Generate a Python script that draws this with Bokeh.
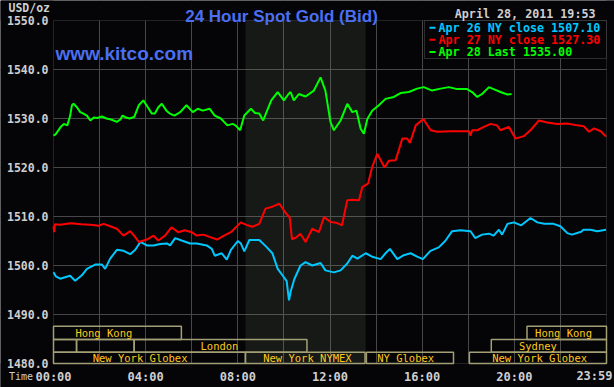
from bokeh.plotting import figure
from bokeh.models import (FixedTicker, Label, BoxAnnotation, Range1d,
                          PrintfTickFormatter, CustomJSTickFormatter)
from bokeh.embed import file_html
from bokeh.resources import INLINE

# ---------------- data (hours of the day, USD/oz) ----------------
apr26_t = [0.0, 0.1, 0.29, 0.5, 0.72, 0.94, 1.23, 1.45, 1.81, 2.1, 2.24, 2.46, 2.75, 3.04, 3.33, 3.55,
           3.77, 4.05, 4.34, 4.63, 4.92, 5.06, 5.28, 5.56, 5.93, 6.22, 6.65, 6.87, 7.0, 7.3, 7.52, 7.7,
           8.0, 8.13, 8.28, 8.5, 8.93, 9.22, 9.5, 9.73, 10.0, 10.12, 10.22, 10.3, 10.45, 10.72, 10.94,
           11.23, 11.59, 11.8, 12.17, 12.46, 12.75, 12.97, 13.19, 13.55, 13.83, 14.2, 14.41, 14.6,
           14.92, 15.2, 15.5, 15.78, 16.03, 16.36, 16.72, 17.0, 17.3, 17.67, 18.1, 18.3, 18.6, 18.9,
           19.1, 19.33, 19.47, 19.7, 19.98, 20.3, 20.7, 21.0, 21.3, 21.7, 22.0, 22.3, 22.5, 22.9, 23.0,
           23.3, 23.6, 23.98]
apr26_p = [1498.6, 1497.8, 1497.3, 1497.6, 1497.9, 1496.9, 1498.0, 1499.3, 1500.2, 1500.2, 1499.3,
           1501.4, 1503.2, 1503.0, 1502.3, 1503.2, 1504.8, 1504.1, 1504.1, 1504.4, 1504.5, 1504.1,
           1505.6, 1505.1, 1504.5, 1504.5, 1504.1, 1503.4, 1502.0, 1502.5, 1501.2, 1503.2, 1505.0,
           1504.5, 1502.9, 1505.2, 1505.2, 1503.9, 1502.5, 1499.3, 1497.6, 1496.8, 1492.9, 1494.8,
           1497.2, 1500.0, 1500.7, 1500.0, 1500.5, 1499.0, 1498.6, 1499.0, 1500.4, 1502.0, 1501.4,
           1502.5, 1501.8, 1501.3, 1502.5, 1503.4, 1501.3, 1502.1, 1502.5, 1501.8, 1501.3, 1503.0,
           1503.7, 1505.0, 1507.0, 1507.2, 1507.0, 1505.6, 1506.3, 1506.5, 1506.1, 1507.3, 1506.3,
           1508.5, 1508.8, 1508.2, 1509.7, 1508.8, 1508.5, 1508.5, 1508.0, 1506.6, 1506.3, 1506.9,
           1507.3, 1507.3, 1507.0, 1507.3]

apr27_t = [0.0, 0.03, 0.06, 0.3, 0.73, 1.2, 1.6, 1.95, 2.17, 2.46, 2.75, 3.04, 3.33, 3.55, 3.7, 4.05,
           4.34, 4.55, 4.84, 5.12, 5.41, 5.7, 6.0, 6.22, 6.5, 6.8, 7.1, 7.4, 7.7, 8.13, 8.42, 8.64,
           8.93, 9.2, 9.5, 9.8, 10.1, 10.25, 10.35, 10.5, 10.72, 10.94, 11.23, 11.52, 11.74, 12.02,
           12.3, 12.52, 12.75, 12.97, 13.26, 13.4, 13.65, 13.83, 14.05, 14.37, 14.56, 14.85, 15.14,
           15.35, 15.47, 15.72, 16.05, 16.37, 16.66, 17.24, 18.04, 18.1, 18.17, 18.39, 18.68, 18.97,
           19.25, 19.4, 19.76, 20.05, 20.41, 20.7, 21.07, 21.43, 21.86, 22.3, 22.73, 23.02, 23.24,
           23.46, 23.75, 23.98]
apr27_p = [1508.0, 1506.8, 1508.4, 1508.3, 1508.6, 1508.4, 1508.3, 1508.1, 1508.5, 1508.0, 1507.5,
           1506.1, 1507.0, 1505.8, 1504.8, 1505.3, 1506.1, 1505.1, 1506.1, 1507.8, 1506.8, 1507.2,
           1506.8, 1506.1, 1506.3, 1505.8, 1505.3, 1506.1, 1506.8, 1508.8, 1508.2, 1507.9, 1508.5,
           1511.6, 1512.0, 1512.6, 1510.6, 1509.8, 1505.4, 1505.6, 1506.5, 1504.8, 1507.5, 1506.8,
           1509.9, 1508.9, 1508.7, 1508.2, 1513.3, 1513.4, 1513.3, 1516.0, 1516.7, 1520.1, 1522.8,
           1520.0, 1521.4, 1521.5, 1525.9, 1525.9, 1525.0, 1528.6, 1529.9, 1527.6, 1527.3, 1527.4,
           1527.4, 1526.5, 1527.6, 1527.6, 1528.3, 1528.9, 1528.6, 1527.6, 1528.3, 1525.9, 1526.4,
           1527.6, 1529.6, 1529.2, 1528.9, 1529.0, 1528.6, 1528.4, 1527.3, 1528.0, 1527.4, 1526.3]

apr28_t = [0.0, 0.1, 0.3, 0.45, 0.6, 0.72, 0.8, 0.87, 1.0, 1.16, 1.3, 1.45, 1.6, 1.75, 1.9, 2.1, 2.3,
           2.5, 2.75, 2.9, 3.0, 3.15, 3.3, 3.5, 3.7, 3.9, 4.05, 4.27, 4.4, 4.55, 4.7, 4.9, 5.05, 5.25,
           5.5, 5.77, 6.05, 6.26, 6.48, 6.77, 7.0, 7.26, 7.55, 7.77, 7.9, 8.1, 8.28, 8.57, 8.75, 8.93,
           9.1, 9.45, 9.73, 10.0, 10.2, 10.29, 10.43, 10.65, 10.94, 11.3, 11.59, 11.8, 12.02, 12.17,
           12.46, 12.75, 12.97, 13.15, 13.33, 13.47, 13.62, 13.83, 14.12, 14.41, 14.77, 15.06, 15.42,
           15.78, 16.07, 16.43, 16.8, 17.16, 17.52, 17.95, 18.17, 18.39, 18.6, 18.9, 19.1, 19.4,
           19.7, 19.88]
apr28_p = [1526.5, 1526.8, 1528.2, 1528.9, 1528.6, 1530.5, 1532.7, 1533.0, 1532.4, 1531.3, 1531.0,
           1530.6, 1529.6, 1530.2, 1530.1, 1530.4, 1530.0, 1529.8, 1529.3, 1529.8, 1530.6, 1530.2,
           1530.0, 1530.3, 1532.7, 1533.7, 1532.6, 1531.0, 1531.0, 1532.3, 1533.0, 1531.6, 1531.0,
           1530.6, 1531.3, 1532.7, 1531.3, 1532.0, 1531.6, 1532.0, 1530.6, 1530.0, 1528.6, 1528.9,
           1528.6, 1527.6, 1530.6, 1532.0, 1531.1, 1531.0, 1529.6, 1533.7, 1535.4, 1533.7, 1535.0,
           1535.4, 1533.7, 1535.0, 1534.5, 1535.7, 1538.4, 1535.7, 1529.3, 1527.6, 1529.6, 1533.0,
           1531.3, 1531.6, 1527.9, 1526.9, 1529.9, 1531.6, 1532.7, 1534.0, 1534.4, 1535.2, 1535.4,
           1536.1, 1536.4, 1535.7, 1536.1, 1536.4, 1536.0, 1536.0, 1535.4, 1534.4, 1535.0, 1536.4,
           1536.0, 1535.4, 1534.9, 1535.0]

legend_texts = ["Apr 26 NY close 1507.10", "Apr 27 NY close 1527.30", "Apr 28 Last 1535.00"]

y_ticks = [1480, 1490, 1500, 1510, 1520, 1530, 1540, 1550]
x_ticks = [0, 4, 8, 12, 16, 20]
x_grid = [2, 4, 6, 8, 10, 12, 14, 16, 18, 20, 22]

# trading sessions (row 0 = top row)
session_names = ["Hong Kong", "", "", "London", "New York Globex", "New York NYMEX", "NY Globex",
                 "New York Globex", "Sydney", "Hong Kong"]
session_start = [0.0, 0.0, 1.0, 3.5, 0.0, 8.33, 13.58, 18.05, 19.0, 20.55]
session_end = [5.55, 1.0, 3.5, 11.0, 8.33, 13.52, 17.36, 24.0, 24.0, 24.0]
session_row = [0, 1, 1, 1, 2, 2, 2, 2, 1, 0]
session_label_at = [0.95, 0, 0, 6.38, 1.7, 9.1, 14.05, 19.04, 20.2, 20.9]

nymex_floor = (8.33, 13.55)

# ---------------- geometry helpers (page pixels -> data) ----------------
W, H = 614, 387
X0, X1 = 53, 606          # chart box left/right (hours 0 and 24)
Y0, Y1 = 20, 363          # chart box top/bottom (1550 and 1480)
PXH = (X1 - X0) / 24.0
PXU = (Y1 - Y0) / 70.0


def fx(px):
    return (px - X0) / PXH


def fy(py):
    return 1550 - (py - Y0) / PXU


# ---------------- styling ----------------
BG = "#050508"
GRID = "#474747"
GRAY = "#cfcfcf"
BLUE_T = "#4b6ff2"
C26, C27, C28 = "#00c8ff", "#ff0000", "#00ff00"
MONO = "DejaVu Sans Mono"

p = figure(width=W, height=H, output_backend="svg", toolbar_location=None,
           x_range=Range1d(fx(0), fx(W)), y_range=Range1d(fy(H), fy(0)),
           min_border=0, background_fill_color=BG, border_fill_color=BG)
p.outline_line_color = None

# grids
p.xgrid.ticker = FixedTicker(ticks=x_grid)
p.ygrid.ticker = FixedTicker(ticks=y_ticks[1:-1])
for g in (p.xgrid, p.ygrid):
    g.grid_line_color = GRID
    g.grid_line_width = 1

# masks outside the chart box (hide grid overflow)
for kw in (dict(bottom=1550), dict(top=1480), dict(right=0), dict(left=24)):
    p.add_layout(BoxAnnotation(fill_color=BG, fill_alpha=1, line_color=None,
                               level="underlay", **kw))

# NYMEX floor shading
p.add_layout(BoxAnnotation(left=nymex_floor[0], right=nymex_floor[1], bottom=1480, top=1550,
                           fill_color="#afcd94", fill_alpha=0.1, line_color=None,
                           level="underlay"))
# chart box
p.add_layout(BoxAnnotation(left=0, right=24, bottom=1480, top=1550, fill_alpha=0,
                           line_color="#6a6a6a", line_width=1, level="underlay"))

# axes (drawn at the box edges)
p.yaxis.fixed_location = 0
p.yaxis.bounds = (1480, 1550)
p.yaxis.ticker = FixedTicker(ticks=y_ticks)
p.yaxis.formatter = PrintfTickFormatter(format="%.1f")
p.xaxis.fixed_location = 1480
p.xaxis.bounds = (0, 24)
p.xaxis.ticker = FixedTicker(ticks=x_ticks)
p.xaxis.formatter = CustomJSTickFormatter(code="""
    const h = Math.round(tick); return (h < 10 ? '0' : '') + h + ':00';""")
for ax in (p.xaxis, p.yaxis):
    ax.axis_line_color = None
    ax.major_tick_line_color = None
    ax.minor_tick_line_color = None
    ax.major_tick_out = 0
    ax.major_tick_in = 0
    ax.minor_tick_out = 0
    ax.minor_tick_in = 0
    ax.major_label_text_color = GRAY
    ax.major_label_text_font = MONO
    ax.major_label_text_font_style = "bold"
p.yaxis.major_label_text_font_size = "11.5px"
p.yaxis.major_label_standoff = 5
p.xaxis.major_label_text_font_size = "12px"
p.xaxis.major_label_standoff = 6

# session boxes
row_top = [fy(325.7), fy(339), fy(351.7)]
row_bot = [fy(339), fy(351.7), 1480.0]
p.quad(left=session_start, right=session_end,
       top=[row_top[r] for r in session_row], bottom=[row_bot[r] for r in session_row],
       fill_alpha=0, line_color="#a39f74", line_width=1.5)
for name, at, r in zip(session_names, session_label_at, session_row):
    if name:
        p.add_layout(Label(x=at, y=(row_top[r] + row_bot[r]) / 2, text=name,
                           text_font=MONO, text_font_size="10.5px", text_color="#ffc81e",
                           text_baseline="middle", text_align="left"))

# price lines
p.line(apr26_t, apr26_p, line_color=C26, line_width=2)
p.line(apr27_t, apr27_p, line_color=C27, line_width=2)
p.line(apr28_t, apr28_p, line_color=C28, line_width=2)

# legend box
p.add_layout(BoxAnnotation(left=fx(424), right=24, bottom=fy(58), top=1550,
                           fill_color=BG, fill_alpha=1, line_color="#8a8a8a", line_width=1))
leg_rows = [27.3, 39.3, 51.5]
for txt, col, py in zip(legend_texts, [C26, C27, C28], leg_rows):
    p.add_layout(BoxAnnotation(left=fx(429), right=fx(435), bottom=fy(py + 1), top=fy(py - 1),
                               fill_color=col, fill_alpha=1, line_color=None))
    p.add_layout(Label(x=fx(438), y=fy(py), text=txt, text_font=MONO, text_font_size="11.7px",
                       text_font_style="bold", text_color=col, text_baseline="middle"))

# texts around the chart box
p.add_layout(Label(x=fx(281), y=fy(15.5), text="24 Hour Spot Gold (Bid)",
                   text_font="Liberation Sans", text_font_size="17px", text_font_style="bold",
                   text_color=BLUE_T, text_align="center", text_baseline="alphabetic"))
p.add_layout(Label(x=fx(55), y=fy(53), text="www.kitco.com", text_font="Liberation Sans",
                   text_font_size="19px", text_font_style="bold", text_color=BLUE_T,
                   text_align="left", text_baseline="alphabetic"))
p.add_layout(Label(x=fx(595), y=fy(13.5), text="April 28, 2011 19:53", text_font=MONO,
                   text_font_size="11.7px", text_font_style="bold", text_color=GRAY,
                   text_align="right", text_baseline="middle"))
p.add_layout(Label(x=fx(8), y=fy(7), text="USD/oz", text_font=MONO,
                   text_font_size="11.5px", text_font_style="bold", text_color=GRAY,
                   text_align="left", text_baseline="middle"))
p.add_layout(Label(x=fx(32.5), y=fy(376), text="Time", text_font=MONO,
                   text_font_size="10px", text_color=GRAY,
                   text_align="right", text_baseline="middle"))
p.add_layout(Label(x=fx(612), y=fy(375.5), text="23:59", text_font=MONO,
                   text_font_size="12px", text_font_style="bold", text_color=GRAY,
                   text_align="right", text_baseline="middle"))

open("out.html", "w").write(file_html(p, INLINE))
